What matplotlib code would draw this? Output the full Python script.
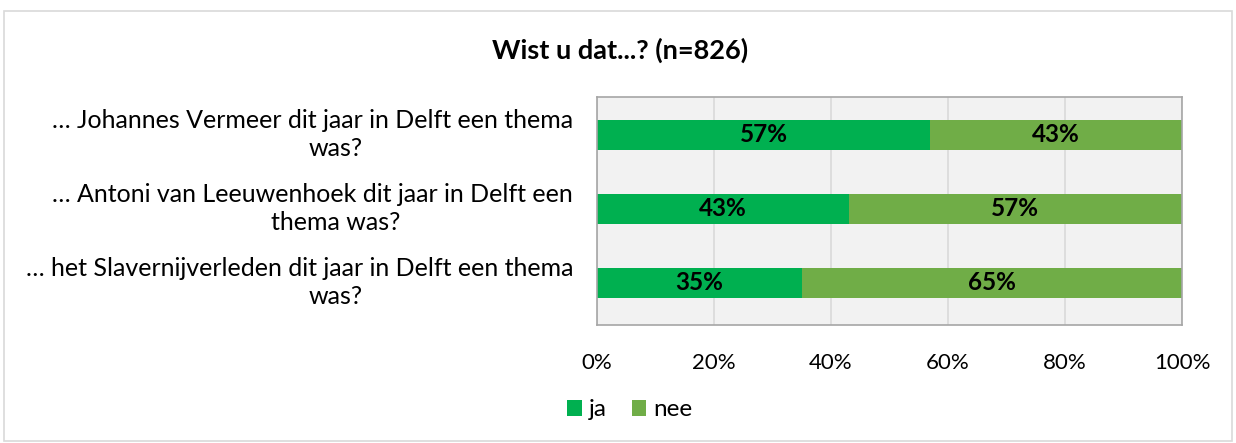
import matplotlib.pyplot as plt
import matplotlib.transforms as mtransforms
import numpy as np

# data
regel1 = ["… Johannes Vermeer dit jaar in Delft een thema",
          "… Antoni van Leeuwenhoek dit jaar in Delft een",
          "… het Slavernijverleden dit jaar in Delft een thema"]
regel2 = ["was?", "thema was?", "was?"]
ja = [57, 43, 35]
nee = [43, 57, 65]

plt.rcParams['font.family'] = ['Lato', 'DejaVu Sans']

fig = plt.figure(figsize=(12.36, 4.43), dpi=100)
ax = fig.add_axes([597/1236, 1-325/443, 585/1236, 228/443])

y = np.arange(len(ja))[::-1]
ax.barh(y, ja, height=0.4, color='#00B050', label='ja')
ax.barh(y, nee, left=ja, height=0.4, color='#70AD47', label='nee')

for yi, a, b in zip(y, ja, nee):
    ax.text(a/2, yi, f"{a}%", ha='center', va='center', fontsize=17.5, fontweight='bold')
    ax.text(a + b/2, yi, f"{b}%", ha='center', va='center', fontsize=17.5, fontweight='bold')

ax.set_xlim(0, 100)
ax.set_ylim(-0.57, 2.51)
ax.set_facecolor('#F2F2F2')
ax.set_xticks([0, 20, 40, 60, 80, 100])
ax.set_xticklabels([f"{v}%" for v in range(0, 101, 20)], fontsize=16)
ax.set_yticks([])
ax.tick_params(length=0, pad=20)
ax.grid(axis='x', color='#D9D9D9', linewidth=1.2)
ax.set_axisbelow(True)
for s in ax.spines.values():
    s.set_color('#A6A6A6')
    s.set_linewidth(1.2)

# vraagteksten in twee regels
trans = mtransforms.blended_transform_factory(fig.transFigure, ax.transData)
for yi, r1, r2 in zip(y, regel1, regel2):
    fig.text(573/1236, yi + 0.19, r1, ha='right', va='center', fontsize=18, transform=trans)
    fig.text(336/1236, yi - 0.19, r2, ha='center', va='center', fontsize=18, transform=trans)

fig.text(0.502, 1-50/443, "Wist u dat...? (n=826)", ha='center', va='center',
         fontsize=19.5, fontweight='bold')

fig.legend(loc='center', bbox_to_anchor=(630/1236, 1-410/443), ncol=2, frameon=False,
           fontsize=17.5, handlelength=0.6, handleheight=0.6, handletextpad=0.3,
           columnspacing=1.0)

border = plt.Rectangle((4/1236, 2/443), 1228/1236, 430/443, transform=fig.transFigure,
                       fill=False, edgecolor='#D9D9D9', linewidth=1.2)
fig.patches.append(border)

fig.savefig('out.png')
